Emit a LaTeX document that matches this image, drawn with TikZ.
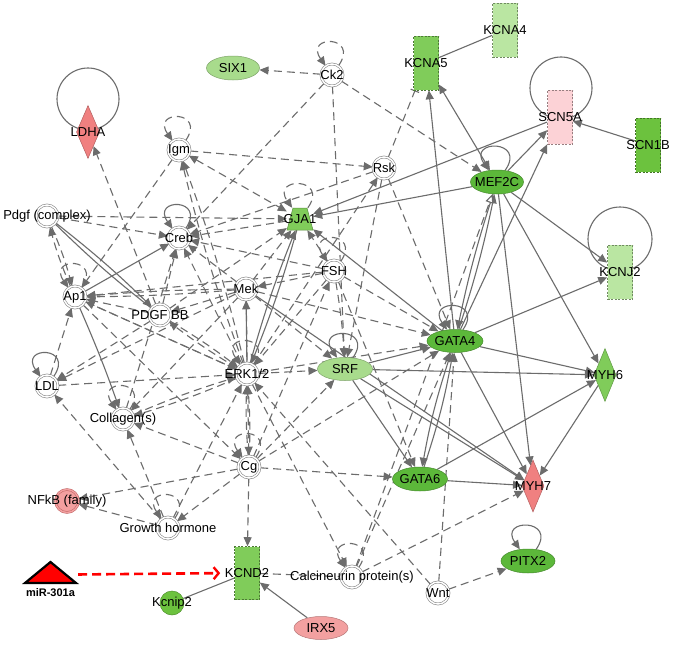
\documentclass[tikz,border=0pt]{standalone}
\usepackage{fontspec}
\setmainfont{Liberation Sans}
\usetikzlibrary{arrows.meta,shapes.geometric,calc}
\pgfdeclarelayer{edges}
\pgfsetlayers{edges,main}
\definecolor{edgec}{RGB}{108,108,108}
\definecolor{ringc}{RGB}{125,125,125}
\definecolor{dkgreen}{RGB}{92,184,58}
\definecolor{mdgreen}{RGB}{128,204,90}
\definecolor{scngreen}{RGB}{108,194,62}
\definecolor{ltgreen}{RGB}{168,219,140}
\definecolor{pagreen}{RGB}{186,230,162}
\definecolor{salmon}{RGB}{240,128,128}
\definecolor{ltpink}{RGB}{252,210,214}
\definecolor{pinktwo}{RGB}{243,160,160}
\tikzset{
  every label/.style={font=\fontsize{13}{15}\selectfont, inner sep=0pt, text=black},
  dc/.style={circle, draw=ringc, line width=0.55pt, double=white, double distance=1.5pt, fill=white, minimum size=22pt, inner sep=0pt},
  dcpink/.style={circle, draw=salmon!80!black, line width=0.55pt, double=pinktwo, double distance=1.4pt, fill=pinktwo, minimum size=23pt, inner sep=0pt},
  ell/.style={ellipse, draw=#1!75!black, fill=#1, line width=0.5pt, minimum width=55pt, minimum height=24pt, inner sep=0pt},
  chan/.style={rectangle, draw=#1!60!black, dash pattern=on 2pt off 1.5pt, line width=0.6pt, fill=#1, minimum width=25pt, minimum height=54pt, inner sep=0pt},
  dia/.style={diamond, draw=#1!75!black, fill=#1, line width=0.5pt, minimum width=23pt, minimum height=53pt, inner sep=0pt},
  ebase/.style={draw=edgec, line width=1.1pt},
  sa/.style={ebase, -{Triangle[length=9pt,width=8pt]}},
  sab/.style={ebase, {Triangle[length=9pt,width=8pt]}-{Triangle[length=9pt,width=8pt]}},
  sl/.style={ebase},
  da/.style={sa, dash pattern=on 8pt off 5pt},
  dab/.style={sab, dash pattern=on 8pt off 5pt},
  dl/.style={ebase, dash pattern=on 8pt off 5pt},
  dinh/.style={ebase, dash pattern=on 8pt off 5pt, -{Bar[width=9pt]}},
  dopen/.style={ebase, dash pattern=on 8pt off 5pt, -{Triangle[length=9pt,width=8pt,fill=white]}},
  mira/.style={draw=red, line width=2.6pt, dash pattern=on 9pt off 5pt, -{Straight Barb[length=5pt,width=12pt,line width=2.4pt]}},
  dloop/.style={da, out=55, in=125, looseness=1, min distance=38pt},
  sloop/.style={sa, out=55, in=125, looseness=1, min distance=38pt},
}
\begin{document}
\begin{tikzpicture}[x=1pt,y=-1pt]
\useasboundingbox (0,0) rectangle (673,645);
% nodes
\node[ell=ltgreen, minimum width=53pt, label=center:SIX1] (six1) at (233,68) {};
\node[dc, label=center:Ck2] (ck2) at (332,75) {};
\node[chan=mdgreen, label=center:KCNA5] (kcna5) at (426,63) {};
\node[chan=pagreen, label=center:KCNA4] (kcna4) at (505,30) {};
\node[chan=ltpink, label=center:SCN5A] (scn5a) at (560,117) {};
\node[chan=scngreen, label=center:SCN1B] (scn1b) at (648,145) {};
\node[dia=salmon, label=center:LDHA] (ldha) at (88,132) {};
\node[dc, label=center:Igm] (igm) at (179,150) {};
\node[dc, label=center:Rsk] (rsk) at (384,168) {};
\node[ell=dkgreen, minimum width=53pt, label=center:MEF2C] (mef2c) at (497,182) {};
\node[dc, label=center:{Pdgf (complex)}] (pdgfc) at (47,216) {};
\filldraw[fill=mdgreen, draw=mdgreen!70!black, line width=0.5pt] (293,208) -- (307,208) -- (313,230) -- (287,230) -- cycle;
\node[rectangle, minimum width=26pt, minimum height=22pt, inner sep=0pt, label=center:GJA1] (gja1) at (300,219) {};
\node[dc, label=center:Creb] (creb) at (179,238) {};
\node[dc, label=center:FSH] (fsh) at (334,271) {};
\node[chan=pagreen, label=center:KCNJ2] (kcnj2) at (620,272) {};
\node[dc, label=center:Mek] (mek) at (246,289) {};
\node[dc, label=center:Ap1] (ap1) at (75,297) {};
\node[dc, label=center:{PDGF BB}] (pdgfbb) at (160,315) {};
\node[ell=dkgreen, minimum width=56pt, minimum height=23pt, label=center:GATA4] (gata4) at (455,341) {};
\node[dc, label=center:{ERK1/2}] (erk) at (247,374) {};
\node[ell=ltgreen, minimum height=23pt, label=center:SRF] (srf) at (345,369) {};
\node[dia=mdgreen, minimum width=22pt, label=center:MYH6] (myh6) at (605,375) {};
\node[dc, label=center:LDL] (ldl) at (47,386) {};
\node[dc, label=center:{Collagen(s)}] (coll) at (123,419) {};
\node[dc, label=center:Cg] (cg) at (249,467) {};
\node[ell=dkgreen, label=center:GATA6] (gata6) at (420,479) {};
\node[dia=salmon, minimum width=22pt, minimum height=52pt, label=center:MYH7] (myh7) at (533,486) {};
\node[dcpink, label=center:{NFkB (family)}] (nfkb) at (67,501) {};
\node[dc, label=center:{Growth hormone}] (gh) at (168,528) {};
\node[chan=mdgreen, minimum height=53pt, label=center:KCND2] (kcnd2) at (247,573) {};
\node[dc, label=center:{Calcineurin protein(s)}] (calc) at (352,577) {};
\node[dc, label=center:Wnt] (wnt) at (438,593) {};
\node[ell=dkgreen, minimum width=54pt, label=center:PITX2] (pitx2) at (528,561) {};
\filldraw[fill=red, draw=black, line width=2.2pt, line join=miter] (25,583) -- (50.5,562) -- (76,583) -- cycle;
\node[inner sep=0pt, minimum width=51pt, minimum height=21pt] (mir) at (50.5,572.5) {};
\node[font=\fontsize{11}{13}\selectfont\bfseries, inner sep=0pt] (mirlbl) at (50.5,593) {miR-301a};
\node[circle, fill=scngreen, draw=scngreen!75!black, line width=0.5pt, minimum size=24pt, inner sep=0pt, label=center:Kcnip2] (kcnip2) at (172,603) {};
\node[ell=pinktwo, minimum width=54pt, minimum height=23pt, label=center:IRX5] (irx5) at (321,628) {};

\begin{pgfonlayer}{edges}
\fill[white] (0,0) rectangle (673,645);
% big loops
\draw[ebase] ($(ldha)+(0,-33)$) circle[radius=31pt];
\draw[ebase] ($(scn5a)+(1,-29)$) circle[radius=31pt];
\draw[ebase] ($(kcnj2)+(0,-33)$) circle[radius=32pt];
% solid edges
\draw[sl] (kcna4) -- (kcna5);
\draw[sa] (scn1b) -- (scn5a);
\draw[sa] (mef2c) -- (scn5a);
\draw[sa] (gata4) -- (scn5a);
\draw[sab] (mef2c) -- (kcna5);
\draw[sa] (gata4) -- (kcna5);
\draw[sa] (scn5a) -- (gja1);
\draw[sa] (mef2c) -- (gja1);
\draw[sa] (gata4) -- (gja1);
\draw[sa] (gata4) -- (kcnj2);
\draw[sa] (mef2c) -- (kcnj2);
\draw[sa] (gata4) -- (myh6);
\draw[sa] (srf) -- (myh6);
\draw[sa] (mef2c) -- (myh6);
\draw[sa] (gata4) -- (myh7);
\draw[sa] (gata6) -- (myh7);
\draw[sa] (gata6) -- (myh6);
\draw[sa] (srf) -- (myh7);
\draw[sa] (mef2c) -- (myh7);
\draw[sa] (myh6) -- (myh7);
\draw[sa] (gata4) to[bend right=4] (gata6);
\draw[sa] (gata6) to[bend right=4] (gata4);
\draw[sa] (srf) -- (gata4);
\draw[sa] (srf) -- (gata6);
\draw[sa] (gata4) to[bend right=3] (mef2c);
\draw[sa] (mef2c) to[bend right=3] (gata4);
\draw[sa] (erk) -- (mek);
\draw[sa] (erk) to[bend left=3] (gja1);
\draw[sa] (gja1) to[bend left=3] (erk);
\draw[sa] (pdgfc) to[bend left=3] (pdgfbb);
\draw[sl] (pdgfc) to[bend right=3] (pdgfbb);
\draw[sa] (ap1) -- (creb);
\draw[sa] (ap1) to[bend left=2] (coll);
\draw[sa] (mek) -- (myh7);
\draw[sa] (irx5) -- (kcnd2);
\draw[sl] (kcnip2) -- (kcnd2);
% dashed edges
\draw[da] (ck2) -- (six1);
\draw[da] (ck2) -- (mef2c);
\draw[da] (ck2) -- (creb);
\draw[da] (ck2) -- (srf);
\draw[da] (igm) -- (rsk);
\draw[dab] (igm) -- (gja1);
\draw[da] (igm) -- (ap1);
\draw[da] (erk) to[bend left=3] (igm);
\draw[da] (erk) to[bend right=3] (igm);
\draw[dinh] (rsk) -- (kcna5);
\draw[da] (rsk) -- (creb);
\draw[da] (erk) -- (rsk);
\draw[da] (rsk) -- (srf);
\draw[da] (rsk) -- (gata4);
\draw[dopen] (calc) -- (mef2c);
\draw[da] (pdgfc) -- (gja1);
\draw[da] (pdgfc) -- (creb);
\draw[da] (gja1) -- (creb);
\draw[da] (fsh) -- (gja1);
\draw[da] (mek) -- (gja1);
\draw[da] (mek) -- (creb);
\draw[da] (erk) -- (creb);
\draw[da] (pdgfbb) -- (creb);
\draw[da] (fsh) -- (creb);
\draw[da] (coll) -- (creb);
\draw[da] (pdgfc) to[bend left=4] (ap1);
\draw[da] (ap1) to[bend left=4] (pdgfc);
\draw[da] (mek) to[bend left=2] (ap1);
\draw[da] (mek) to[bend right=2] (ap1);
\draw[da] (fsh) -- (ap1);
\draw[da] (erk) -- (ap1);
\draw[da] (pdgfbb) -- (ap1);
\draw[da] (ldl) -- (ap1);
\draw[da] (gh) -- (ldl);
\draw[da] (ldl) -- (erk);
\draw[da] (mek) -- (ldl);
\draw[da] (pdgfbb) -- (ldl);
\draw[da] (mek) -- (pdgfbb);
\draw[da] (pdgfbb) to[bend left=3] (erk);
\draw[da] (erk) to[bend left=3] (pdgfbb);
\draw[da] (pdgfbb) -- (gja1);
\draw[da] (mek) -- (gata4);
\draw[da] (mek) -- (srf);
\draw[da] (mek) -- (coll);
\draw[da] (fsh) -- (mek);
\draw[da] (fsh) to[bend left=3] (srf);
\draw[da] (fsh) -- (gata4);
\draw[da] (fsh) -- (erk);
\draw[da] (fsh) -- (gata6);
\draw[da] (cg) -- (fsh);
\draw[da] (erk) -- (srf);
\draw[da] (erk) -- (gata4);
\draw[da] (erk) to[bend left=3] (coll);
\draw[da] (coll) to[bend left=3] (erk);
\draw[da] (erk) -- (calc);
\draw[da] (wnt) -- (erk);
\draw[da] (cg) -- (srf);
\draw[da] (cg) -- (gata4);
\draw[da] (cg) to[bend left=3] (erk);
\draw[da] (cg) to[bend right=3] (erk);
\draw[da] (cg) -- (nfkb);
\draw[da] (cg) -- (gh);
\draw[da] (cg) -- (kcnd2);
\draw[da] (cg) -- (gata6);
\draw[da] (cg) -- (coll);
\draw[da] (ap1) -- (cg);
\draw[da] (mek) -- (cg);
\draw[da] (gh) -- (nfkb);
\draw[da] (gh) -- (coll);
\draw[da] (gh) -- (erk);
\draw[dl] (kcnd2) -- (calc);
\draw[da] (calc) -- (myh7);
\draw[da] (calc) -- (gata4);
\draw[da] (wnt) -- (pitx2);
\draw[da] (wnt) -- (gata4);
\draw[da] (ap1) -- (erk);
\draw[da] (pdgfbb) -- (ldha);
% self loops
\draw[dloop] (ck2) to (ck2);
\draw[dloop] (igm) to (igm);
\draw[dloop] (gja1) to (gja1);
\draw[dloop] (fsh) to (fsh);
\draw[dloop] (ap1) to (ap1);
\draw[dloop] (erk) to (erk);
\draw[dloop] (coll) to (coll);
\draw[dloop] (gh) to (gh);
\draw[dloop] (calc) to (calc);
\draw[dloop] (cg) to (cg);
\draw[sloop] (creb) to (creb);
\draw[sloop] (ldl) to (ldl);
\draw[sloop] (srf) to (srf);
\draw[sloop] (gata4) to (gata4);
\draw[sloop] (mef2c) to (mef2c);
\draw[sloop] (pitx2) to (pitx2);
% miR arrow
\draw[mira, shorten <=2pt, shorten >=14pt] ([yshift=-2pt]mir.east) -- (kcnd2.west);
\end{pgfonlayer}
\end{tikzpicture}
\end{document}
